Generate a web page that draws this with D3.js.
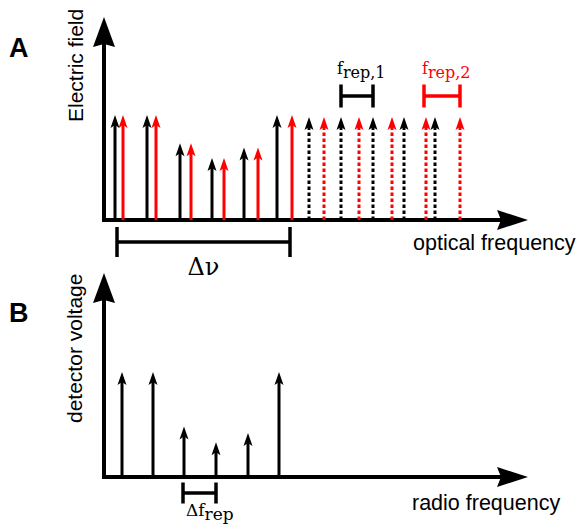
<!DOCTYPE html>
<html lang="en">
<head>
<meta charset="UTF-8">
<title>Dual comb sketch</title>
<script src="https://d3js.org/d3.v7.min.js"></script>
<style>
  body { margin: 0; background: #fff; }
  .sans { font-family: "Liberation Sans", Arial, sans-serif; }
  .serif { font-family: "DejaVu Serif", serif; }
</style>
</head>
<body>
<script>
// panel A: comb lines (optical frequency, arb. units from origin)
const comb1Freq = [11, 43, 76, 108, 140, 173];
const comb2Freq = [19, 52, 87, 120, 154, 188];
const combAmp = [1, 1, 0.73, 0.59, 0.69, 1];
// lines outside the optical bandwidth (dotted)
const comb1Outer = [205, 237, 269, 300, 331];
const comb2Outer = [220, 255, 288, 322, 356];
const outerAmp = 0.98;
// brackets
const deltaNu = [13, 186];
const frep1 = [237, 269];
const frep2 = [320, 356];

// panel B: beat notes (radio frequency)
const beatFreq = [18, 49, 80, 112, 144, 175];
const beatAmp = [1, 1, 0.48, 0.33, 0.42, 1];
const deltaFrep = [79, 112];

const W = 579, H = 524;
const red = '#ff0000';

const svg = d3.select('body').append('svg')
    .attr('width', W)
    .attr('height', H);

const x = d3.scaleLinear().domain([0, 424]).range([104, 528]);
const yA = d3.scaleLinear().domain([0, 1]).range([220, 115]);
const yB = d3.scaleLinear().domain([0, 1]).range([477, 372]);

// arrow head pointing up, tip at (cx, ty)
function headUp(cx, ty, w, len, notch) {
    return `M${cx},${ty}L${cx + w},${ty + len}L${cx},${ty + len - notch}L${cx - w},${ty + len}Z`;
}

function axes(base, top) {
    const g = svg.append('g');
    // y axis
    g.append('line')
        .attr('x1', x(0)).attr('x2', x(0))
        .attr('y1', base + 2).attr('y2', top + 25)
        .attr('stroke', '#000').attr('stroke-width', 4);
    g.append('path')
        .attr('d', headUp(x(0), top, 11, 30, 3))
        .attr('fill', '#000');
    // x axis
    const xe = x.range()[1];
    g.append('line')
        .attr('x1', x(0) - 2).attr('x2', xe - 26)
        .attr('y1', base).attr('y2', base)
        .attr('stroke', '#000').attr('stroke-width', 4);
    g.append('path')
        .attr('d', `M${xe},${base}L${xe - 31},${base - 10}L${xe - 27},${base}L${xe - 31},${base + 10}Z`)
        .attr('fill', '#000');
}

function comb(freqs, amps, y, color, dotted) {
    const base = y(0);
    const g = svg.append('g');
    const data = freqs.map((f, i) => ({ f, a: Array.isArray(amps) ? amps[i] : amps }));
    g.selectAll('line')
        .data(data)
        .join('line')
        .attr('x1', d => x(d.f)).attr('x2', d => x(d.f))
        .attr('y1', base).attr('y2', d => y(d.a) + 9)
        .attr('stroke', color)
        .attr('stroke-width', 3)
        .attr('stroke-dasharray', dotted ? '3.4,2.6' : null);
    g.selectAll('path')
        .data(data)
        .join('path')
        .attr('d', d => headUp(x(d.f), y(d.a), 4.5, 13, 3))
        .attr('fill', color);
}

function bracket(range, yMid, half, color) {
    const g = svg.append('g')
        .attr('stroke', color)
        .attr('stroke-width', 3.5);
    g.append('line')
        .attr('x1', x(range[0])).attr('x2', x(range[1]))
        .attr('y1', yMid).attr('y2', yMid);
    g.selectAll('.tick')
        .data(range)
        .join('line')
        .attr('x1', d => x(d)).attr('x2', d => x(d))
        .attr('y1', yMid - half).attr('y2', yMid + half);
}

// ---- panel A ----
axes(220, 17);
comb(comb1Outer, outerAmp, yA, '#000', true);
comb(comb2Outer, outerAmp, yA, red, true);
comb(comb1Freq, combAmp, yA, '#000', false);
comb(comb2Freq, combAmp, yA, red, false);

bracket(deltaNu, 242, 15, '#000');
bracket(frep1, 96, 11.5, '#000');
bracket(frep2, 96, 11.5, red);

svg.append('text').attr('class', 'sans')
    .attr('x', 9).attr('y', 57)
    .attr('font-size', 27).attr('font-weight', 'bold')
    .text('A');
svg.append('text').attr('class', 'sans')
    .attr('transform', 'translate(83,122) rotate(-90)')
    .attr('font-size', 21)
    .text('Electric field');
svg.append('text').attr('class', 'sans')
    .attr('x', 413).attr('y', 250)
    .attr('font-size', 21.5)
    .text('optical frequency');

svg.append('text').attr('class', 'serif')
    .attr('x', x(d3.mean(deltaNu))).attr('y', 275)
    .attr('text-anchor', 'middle')
    .attr('font-size', 24)
    .text('Δν');

function subLabel(xp, yp, main, sub, color, size) {
    const t = svg.append('text').attr('class', 'serif')
        .attr('x', xp).attr('y', yp)
        .attr('font-size', size)
        .attr('fill', color);
    t.append('tspan').text(main);
    t.append('tspan').attr('dy', 4).text(sub);
}
subLabel(337, 74, 'f', 'rep,1', '#000', 16);
subLabel(422, 74, 'f', 'rep,2', red, 16);

// ---- panel B ----
axes(477, 273);
comb(beatFreq, beatAmp, yB, '#000', false);
bracket(deltaFrep, 493, 10.5, '#000');

svg.append('text').attr('class', 'sans')
    .attr('x', 9).attr('y', 322)
    .attr('font-size', 27).attr('font-weight', 'bold')
    .text('B');
svg.append('text').attr('class', 'sans')
    .attr('transform', 'translate(82,423) rotate(-90)')
    .attr('font-size', 21)
    .text('detector voltage');
svg.append('text').attr('class', 'sans')
    .attr('x', 412).attr('y', 510)
    .attr('font-size', 21.5)
    .text('radio frequency');
subLabel(186, 516, 'Δf', 'rep', '#000', 17);
</script>
</body>
</html>
